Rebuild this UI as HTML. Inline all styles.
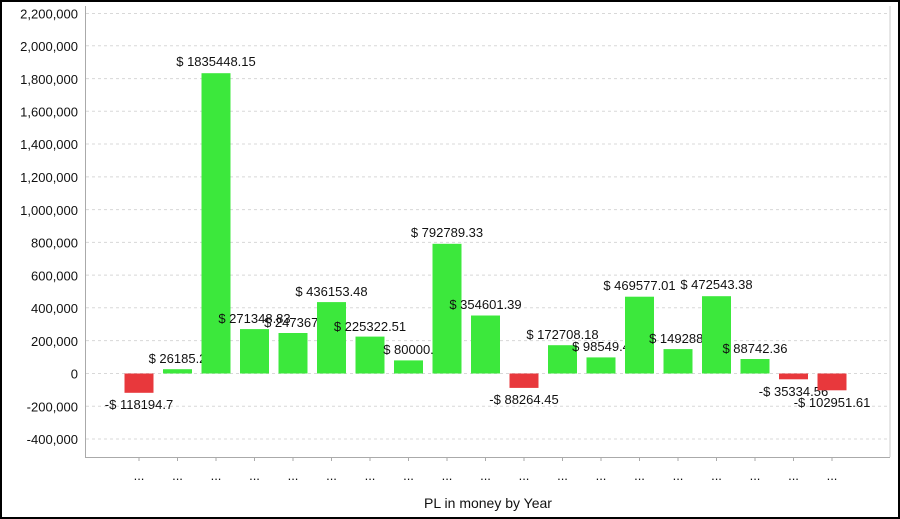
<!DOCTYPE html>
<html><head><meta charset="utf-8"><style>
html,body{margin:0;padding:0;background:#fff}
svg{display:block}
text{font-family:"Liberation Sans",sans-serif;font-size:13px;fill:#111}
</style></head><body>
<svg width="900" height="519" viewBox="0 0 900 519">
<rect x="1" y="1" width="898" height="517" fill="#fff" stroke="#000" stroke-width="2"/>
<g stroke="#d8d8d8" stroke-dasharray="3,3" stroke-width="1">
<line x1="86" x2="889" y1="13.5" y2="13.5"/>
<line x1="86" x2="889" y1="45.8" y2="45.8"/>
<line x1="86" x2="889" y1="78.6" y2="78.6"/>
<line x1="86" x2="889" y1="111.3" y2="111.3"/>
<line x1="86" x2="889" y1="144.0" y2="144.0"/>
<line x1="86" x2="889" y1="176.9" y2="176.9"/>
<line x1="86" x2="889" y1="209.6" y2="209.6"/>
<line x1="86" x2="889" y1="242.4" y2="242.4"/>
<line x1="86" x2="889" y1="275.1" y2="275.1"/>
<line x1="86" x2="889" y1="307.8" y2="307.8"/>
<line x1="86" x2="889" y1="340.6" y2="340.6"/>
<line x1="86" x2="889" y1="373.5" y2="373.5"/>
<line x1="86" x2="889" y1="406.2" y2="406.2"/>
<line x1="86" x2="889" y1="439.0" y2="439.0"/>
</g>
<line x1="890" y1="6" x2="890" y2="457" stroke="#ccc"/>
<line x1="85.5" y1="6" x2="85.5" y2="457.5" stroke="#aaa"/>
<line x1="85" y1="457.5" x2="890" y2="457.5" stroke="#aaa"/>
<g text-anchor="end" style="font-size:14px">
<text x="78" y="18.5">2,200,000</text>
<text x="78" y="51">2,000,000</text>
<text x="78" y="83.8">1,800,000</text>
<text x="78" y="116.5">1,600,000</text>
<text x="78" y="149.2">1,400,000</text>
<text x="78" y="182.1">1,200,000</text>
<text x="78" y="214.8">1,000,000</text>
<text x="78" y="247.6">800,000</text>
<text x="78" y="280.3">600,000</text>
<text x="78" y="313">400,000</text>
<text x="78" y="345.8">200,000</text>
<text x="78" y="378.7">0</text>
<text x="78" y="411.4">-200,000</text>
<text x="78" y="444.2">-400,000</text>
</g>
<g text-anchor="middle">
<rect x="124.5" y="373.5" width="29" height="19.3" fill="#e8383c"/><text x="139" y="409">-$ 118194.7</text>
<rect x="163" y="369.2" width="29" height="4.3" fill="#3ce83c"/><text x="177.5" y="363">$ 26185.2</text>
<rect x="201.5" y="73.2" width="29" height="300.3" fill="#3ce83c"/><text x="216" y="66">$ 1835448.15</text>
<rect x="240" y="329.1" width="29" height="44.4" fill="#3ce83c"/><text x="254.5" y="323">$ 271348.83</text>
<rect x="278.5" y="333" width="29" height="40.5" fill="#3ce83c"/><text x="293" y="327">$ 247367.</text>
<rect x="317" y="302.1" width="29" height="71.4" fill="#3ce83c"/><text x="331.5" y="296">$ 436153.48</text>
<rect x="355.5" y="336.6" width="29" height="36.9" fill="#3ce83c"/><text x="370" y="331">$ 225322.51</text>
<rect x="394" y="360.4" width="29" height="13.1" fill="#3ce83c"/><text x="408.5" y="354">$ 80000.</text>
<rect x="432.5" y="243.8" width="29" height="129.7" fill="#3ce83c"/><text x="447" y="237">$ 792789.33</text>
<rect x="471" y="315.5" width="29" height="58" fill="#3ce83c"/><text x="485.5" y="309">$ 354601.39</text>
<rect x="509.5" y="373.5" width="29" height="14.4" fill="#e8383c"/><text x="524" y="404">-$ 88264.45</text>
<rect x="548" y="345.2" width="29" height="28.3" fill="#3ce83c"/><text x="562.5" y="339">$ 172708.18</text>
<rect x="586.5" y="357.4" width="29" height="16.1" fill="#3ce83c"/><text x="601" y="351">$ 98549.4</text>
<rect x="625" y="296.7" width="29" height="76.8" fill="#3ce83c"/><text x="639.5" y="290">$ 469577.01</text>
<rect x="663.5" y="349.1" width="29" height="24.4" fill="#3ce83c"/><text x="678" y="343">$ 149288.</text>
<rect x="702" y="296.2" width="29" height="77.3" fill="#3ce83c"/><text x="716.5" y="289">$ 472543.38</text>
<rect x="740.5" y="359" width="29" height="14.5" fill="#3ce83c"/><text x="755" y="353">$ 88742.36</text>
<rect x="779" y="373.5" width="29" height="5.8" fill="#e8383c"/><text x="793.5" y="396">-$ 35334.56</text>
<rect x="817.5" y="373.5" width="29" height="16.8" fill="#e8383c"/><text x="832" y="407">-$ 102951.61</text>
</g>
<g stroke="#aaa">
<line x1="139" x2="139" y1="458" y2="461"/><line x1="177.5" x2="177.5" y1="458" y2="461"/><line x1="216" x2="216" y1="458" y2="461"/><line x1="254.5" x2="254.5" y1="458" y2="461"/><line x1="293" x2="293" y1="458" y2="461"/><line x1="331.5" x2="331.5" y1="458" y2="461"/><line x1="370" x2="370" y1="458" y2="461"/><line x1="408.5" x2="408.5" y1="458" y2="461"/><line x1="447" x2="447" y1="458" y2="461"/><line x1="485.5" x2="485.5" y1="458" y2="461"/><line x1="524" x2="524" y1="458" y2="461"/><line x1="562.5" x2="562.5" y1="458" y2="461"/><line x1="601" x2="601" y1="458" y2="461"/><line x1="639.5" x2="639.5" y1="458" y2="461"/><line x1="678" x2="678" y1="458" y2="461"/><line x1="716.5" x2="716.5" y1="458" y2="461"/><line x1="755" x2="755" y1="458" y2="461"/><line x1="793.5" x2="793.5" y1="458" y2="461"/><line x1="832" x2="832" y1="458" y2="461"/>
</g>
<g text-anchor="middle" style="font-size:12px">
<text x="139" y="480">...</text><text x="177.5" y="480">...</text><text x="216" y="480">...</text><text x="254.5" y="480">...</text><text x="293" y="480">...</text><text x="331.5" y="480">...</text><text x="370" y="480">...</text><text x="408.5" y="480">...</text><text x="447" y="480">...</text><text x="485.5" y="480">...</text><text x="524" y="480">...</text><text x="562.5" y="480">...</text><text x="601" y="480">...</text><text x="639.5" y="480">...</text><text x="678" y="480">...</text><text x="716.5" y="480">...</text><text x="755" y="480">...</text><text x="793.5" y="480">...</text><text x="832" y="480">...</text>
</g>
<text x="488" y="508" text-anchor="middle" style="font-size:14px">PL in money by Year</text>
</svg>
</body></html>
